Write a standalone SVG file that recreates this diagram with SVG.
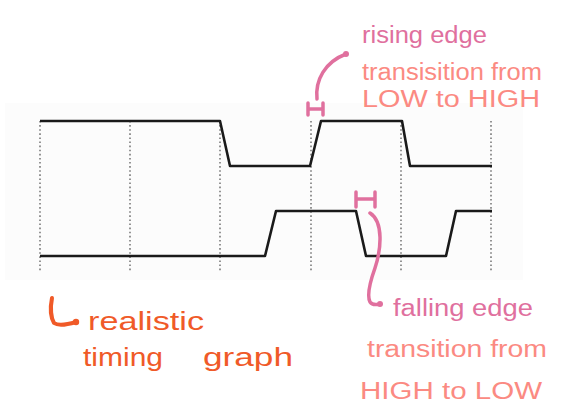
<svg xmlns="http://www.w3.org/2000/svg" width="570" height="411" viewBox="0 0 570 411">
<style>
.grid{stroke:#7a7a7a;stroke-width:1.6;stroke-dasharray:1.6 2.5;fill:none}
.sig{stroke:#1a1a1a;stroke-width:2.6;fill:none;stroke-linejoin:round}
.pk{stroke:#e0709e;stroke-width:3.5;fill:none;stroke-linecap:round;stroke-linejoin:round}
.or{stroke:#f05a28;stroke-width:4;fill:none;stroke-linecap:round;stroke-linejoin:round}
.t{font-family:"Liberation Sans",Arial,sans-serif;}
.tp{fill:#e0709e;font-size:23px}
.ts{fill:#fb8a82;font-size:23px}
.to{fill:#f05a28;font-size:25px}
</style>
<rect width="570" height="411" fill="#ffffff"/>
<rect x="5" y="103" width="518" height="177" fill="#fcfcfc"/>
<g id="grid">
<line class="grid" x1="40" y1="121" x2="40" y2="271"/>
<line class="grid" x1="130" y1="121" x2="130" y2="271"/>
<line class="grid" x1="220" y1="121" x2="220" y2="271"/>
<line class="grid" x1="311" y1="121" x2="311" y2="271"/>
<line class="grid" x1="401" y1="121" x2="401" y2="271"/>
<line class="grid" x1="491" y1="121" x2="491" y2="271"/>
</g>
<g id="signal-a">
<path class="sig" d="M40,121 H220 L230,166 H310 L321,121 H402 L410,166 H492"/>
</g>
<g id="signal-b">
<path class="sig" d="M40,256 H265 L276,211 H356 L366,256 H446 L456,211 H492"/>
</g>
<g id="connectors">
<path class="pk" d="M308,103 V115 M323,103 V115 M308,109 H323"/>
<path class="pk" d="M317,99 C315,80 325,62 346,54"/>
<circle cx="346" cy="54" r="3" fill="#e0709e"/>
<path class="pk" d="M356,192 V207 M375,192 V207 M356,199 H375"/>
<path class="pk" d="M370,213 C384,222 381,250 375,268 C370,282 367,296 370,302 C372,305 376,305 380,304"/>
<circle cx="380" cy="304" r="3" fill="#e0709e"/>
<path class="or" d="M52,298 C50,308 51,318 54,323 C58,326 66,325 76,322"/>
<circle cx="76" cy="322" r="3.2" fill="#f05a28"/>
</g>
<g id="rising-label">
<text class="t tp" x="362" y="43" textLength="125" lengthAdjust="spacingAndGlyphs">rising edge</text>
<text class="t ts" x="362" y="80" textLength="180" lengthAdjust="spacingAndGlyphs">transisition from</text>
<text class="t ts" x="362" y="107" textLength="178" lengthAdjust="spacingAndGlyphs">LOW to HIGH</text>
</g>
<g id="falling-label">
<text class="t tp" x="393" y="316" textLength="140" lengthAdjust="spacingAndGlyphs">falling edge</text>
<text class="t ts" x="367" y="357" textLength="180" lengthAdjust="spacingAndGlyphs">transition from</text>
<text class="t ts" x="360" y="399" textLength="182" lengthAdjust="spacingAndGlyphs">HIGH to LOW</text>
</g>
<g id="note">
<text class="t to" x="88" y="330" textLength="116" lengthAdjust="spacingAndGlyphs">realistic</text>
<text class="t to" x="83" y="366" textLength="80" lengthAdjust="spacingAndGlyphs">timing</text>
<text class="t to" x="203" y="366" textLength="90" lengthAdjust="spacingAndGlyphs">graph</text>
</g>
</svg>
